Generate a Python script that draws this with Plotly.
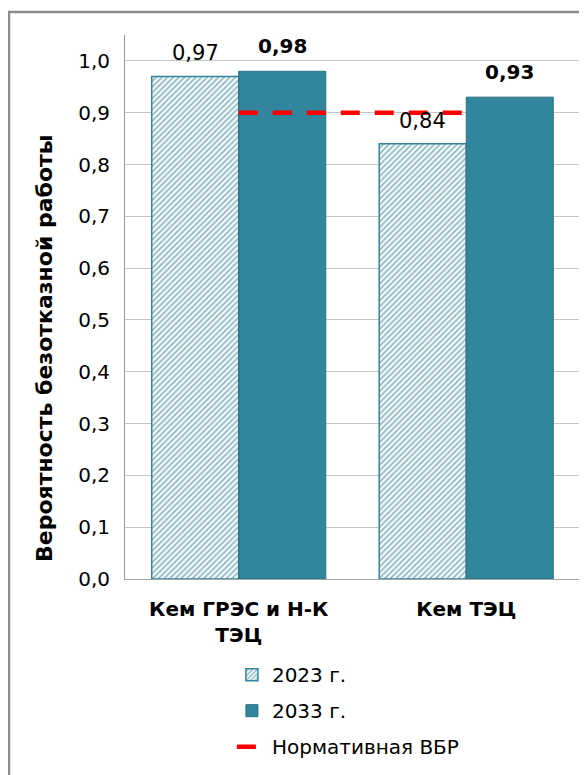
import plotly.graph_objects as go

categories = ["Кем ГРЭС и Н-К<br>ТЭЦ", "Кем ТЭЦ"]
values_2023 = [0.97, 0.84]
values_2033 = [0.98, 0.93]
norm_vbr = [0.9, 0.9]
series_names = ["2023 г.", "2033 г.", "Нормативная ВБР"]
y_ticks = [0.0, 0.1, 0.2, 0.3, 0.4, 0.5, 0.6, 0.7, 0.8, 0.9, 1.0]
y_title = "Вероятность безотказной работы"

FONT = "DejaVu Sans, sans-serif"
TEAL = "#31859C"

fig = go.Figure()
fig.add_trace(go.Bar(
    x=categories, y=values_2023, name=series_names[0], legendgroup="a",
    marker=dict(color="white", line=dict(color=TEAL, width=1.5),
                pattern=dict(shape="/", size=4, solidity=0.5,
                             fgcolor="#2E7A8E", bgcolor="white")),
))
fig.add_trace(go.Bar(
    x=categories, y=values_2033, name=series_names[1], legendgroup="b",
    marker=dict(color=TEAL, line=dict(color="#2A7184", width=1)),
))
fig.add_trace(go.Scatter(
    x=categories, y=norm_vbr, name=series_names[2], legendgroup="c",
    mode="lines", line=dict(color="#FF0000", width=4.5, dash="19px,15px"),
))

annotations = []
for cat, v in zip(categories, values_2023):
    annotations.append(dict(x=cat, y=v, xref="x", yref="y", text=f"{v:.2f}".replace(".", ","),
                            showarrow=False, xshift=-43.5, yshift=9, yanchor="bottom",
                            font=dict(family=FONT, size=21, color="black")))
for cat, v in zip(categories, values_2033):
    annotations.append(dict(x=cat, y=v, xref="x", yref="y",
                            text="<b>" + f"{v:.2f}".replace(".", ",") + "</b>",
                            showarrow=False, xshift=43.5, yshift=11, yanchor="bottom",
                            font=dict(family=FONT, size=20, color="black")))
annotations.append(dict(text="<b>" + y_title + "</b>", xref="paper", yref="paper",
                        x=-0.178, y=0.4246, xanchor="center", yanchor="middle",
                        textangle=-90, showarrow=False,
                        font=dict(family=FONT, size=22, color="black")))

fig.update_layout(
    width=579, height=767,
    margin=dict(l=117, r=7, t=27, b=196),
    paper_bgcolor="white", plot_bgcolor="white",
    separators=", ",
    barmode="group", bargap=0.235, bargroupgap=0,
    font=dict(family=FONT, size=20, color="black"),
    showlegend=True,
    legend=dict(x=0.235, xanchor="left", y=-0.14, yanchor="top",
                traceorder="grouped", tracegroupgap=7,
                font=dict(family=FONT, size=20, color="black"),
                bgcolor="rgba(0,0,0,0)"),
    xaxis=dict(showgrid=False, showline=True, linecolor="#A6A6A6", linewidth=1,
               ticks="", ticklabelstandoff=12,
               tickfont=dict(family=FONT, size=20, color="black", weight="bold")),
    yaxis=dict(range=[0, 1.05], tickvals=y_ticks, tickformat=".1f",
               showgrid=True, gridcolor="#C4C4C4", gridwidth=1,
               showline=True, linecolor="#969696", linewidth=1,
               ticks="", ticklabelstandoff=10, zeroline=False,
               tickfont=dict(family=FONT, size=20, color="black")),
    shapes=[
        dict(type="line", xref="paper", yref="paper",
             x0=-0.255, x1=-0.255, y0=-0.6, y1=1.0423,
             line=dict(color="#8C8C8C", width=2.5), layer="above"),
        dict(type="line", xref="paper", yref="paper",
             x0=-0.2578, x1=1.2, y0=1.0423, y1=1.0423,
             line=dict(color="#8C8C8C", width=2.5), layer="above"),
    ],
    annotations=annotations,
)

fig.write_html("out.html", config={"displayModeBar": False})
